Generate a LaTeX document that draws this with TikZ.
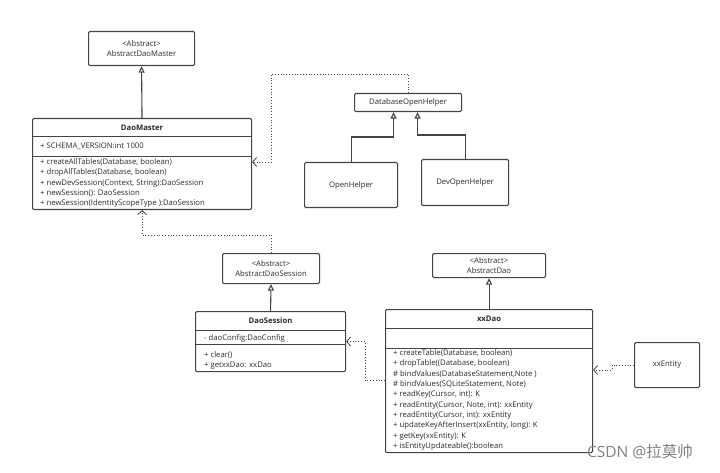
\documentclass[tikz,border=0pt]{standalone}
\usepackage{fontspec}
\setmainfont{Open Sans}
\newfontfamily\cjkfont{Noto Sans CJK SC}
\usetikzlibrary{arrows.meta}
\definecolor{umlline}{HTML}{444444}
\definecolor{umltext}{HTML}{2A2A2A}
\newcommand{\umlfont}{\fontsize{7.7}{10.4}\selectfont}
\tikzset{
  box/.style={draw=umlline, line width=1.1pt, rounded corners=1.2pt, anchor=north west,
    inner sep=0pt, align=center, font=\umlfont, text=umltext},
  member/.style={anchor=west, inner sep=0pt, font=\umlfont, text=umltext,
    text height=5.6pt, text depth=1.6pt},
  title/.style={inner sep=0pt, font=\umlfont\bfseries, text=umltext},
  sep/.style={draw=umlline, line width=1pt},
  gen/.style={draw=umlline, line width=1.1pt, -{Triangle[open, length=6.5pt, width=6pt]}},
  dep/.style={draw=umlline, line width=0.8pt, dotted, -{Straight Barb[length=4pt, width=9pt]}}
}
\begin{document}
\begin{tikzpicture}[x=1pt,y=-1pt]
\useasboundingbox (0,0) rectangle (720,473);
%abstract master and DaoMaster
\node[box, minimum width=106pt, minimum height=34pt] (absmaster) at (88,31) {<Abstract>\\AbstractDaoMaster};
\node[box, minimum width=219pt, minimum height=91pt] (master) at (32,118) {};
\node[title] (mastername) at ([yshift=-9.5pt]master.north) {DaoMaster};
\draw[sep] ([yshift=-19pt]master.north west) -- ([yshift=-19pt]master.north east);
\draw[sep] ([yshift=-39pt]master.north west) -- ([yshift=-39pt]master.north east);
\node[member] (masterattr) at (40,147) {+ SCHEMA\_VERSION:int 1000};
\foreach \m [count=\i] in {{+ createAllTables(Database, boolean)},{+ dropAllTables(Database, boolean)},
  {+ newDevSession(Context, String):DaoSession},{+ newSession(): DaoSession},
  {+ newSession(IdentityScopeType ):DaoSession}}
  \node[member] (mastermeth\i) at (40,152.4+10.3*\i) {\m};
\draw[gen] (master.north) -- (absmaster.south);
%open helpers
\node[box, minimum width=107pt, minimum height=18pt] (dbhelper) at (354,93) {DatabaseOpenHelper};
\node[box, minimum width=93pt, minimum height=45pt] (openhelper) at (304,162) {OpenHelper};
\node[box, minimum width=87pt, minimum height=46pt] (devhelper) at (421,159) {DevOpenHelper};
\draw[gen] (openhelper.north) -- ++(0,-25) -| ([xshift=-14.5pt]dbhelper.south);
\draw[gen] (devhelper.north) -- ++(0,-24) -| ([xshift=9.5pt]dbhelper.south);
\draw[dep] (dbhelper.north) |- (271,74) |- ([yshift=-44pt]master.north east);
%session
\node[box, minimum width=97pt, minimum height=30pt] (abssession) at (222,253) {<Abstract>\\AbstractDaoSession};
\node[box, minimum width=150pt, minimum height=60pt] (session) at (195,311) {};
\node[title] (sessionname) at ([yshift=-9.5pt]session.north) {DaoSession};
\draw[sep] ([yshift=-19pt]session.north west) -- ([yshift=-19pt]session.north east);
\draw[sep] ([yshift=-33pt]session.north west) -- ([yshift=-33pt]session.north east);
\node[member] (sessionattr) at (204,338) {- daoConfig:DaoConfig};
\foreach \m [count=\i] in {{+ clear()},{+ getxxDao: xxDao}}
  \node[member] (sessionmeth\i) at (204,344.3+10.7*\i) {\m};
\draw[gen] (session.north) -- (abssession.south);
\draw[dep] (abssession.north) -- ++(0,-18) -| (master.south);
%dao
\node[box, minimum width=113pt, minimum height=24pt] (absdao) at (432,253) {<Abstract>\\AbstractDao};
\node[box, minimum width=207pt, minimum height=143pt] (xxdao) at (385,309) {};
\node[title] (xxdaoname) at ([yshift=-9.5pt]xxdao.north) {xxDao};
\draw[sep] ([yshift=-19pt]xxdao.north west) -- ([yshift=-19pt]xxdao.north east);
\draw[sep] ([yshift=-39pt]xxdao.north west) -- ([yshift=-39pt]xxdao.north east);
\foreach \m [count=\i] in {{+ createTable(Database, boolean)},{+ dropTable((Database, boolean)},
  {\# bindValues(DatabaseStatement,Note )},{\# bindValues(SQLiteStatement, Note)},
  {+ readKey(Cursor, int): K},{+ readEntity(Cursor, Note, int): xxEntity},
  {+ readEntity(Cursor, int): xxEntity},{+ updateKeyAfterInsert(xxEntity, long): K},
  {+ getKey(xxEntity): K},{+ isEntityUpdateable():boolean}}
  \node[member] (xxdaometh\i) at (393,342.9+10.37*\i) {\m};
\draw[gen] (xxdao.north) -- (absdao.south);
\draw[dep] ([yshift=-71pt]xxdao.north west) -| ([xshift=19pt]session.east) -- (session.east);
\node[box, minimum width=65pt, minimum height=45pt] (xxentity) at (634,342) {xxEntity};
\draw[dep] (xxentity.west) -- ++(-22,0) |- ([yshift=-61pt]xxdao.north east);
%watermark
\node[inner sep=0pt, text=black!50, font=\fontsize{15.5}{15.5}\selectfont] (mark) at (640,452) {CSDN @{\cjkfont 拉莫帅}};
\end{tikzpicture}
\end{document}
